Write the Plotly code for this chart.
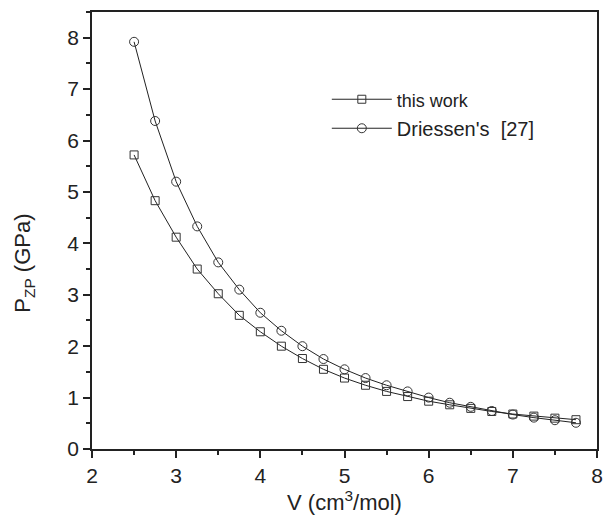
import plotly.graph_objects as go

volume = [2.5, 2.75, 3.0, 3.25, 3.5, 3.75, 4.0, 4.25, 4.5, 4.75, 5.0, 5.25,
          5.5, 5.75, 6.0, 6.25, 6.5, 6.75, 7.0, 7.25, 7.5, 7.75]
this_work = [5.72, 4.83, 4.12, 3.50, 3.02, 2.60, 2.28, 2.00, 1.76, 1.55, 1.38, 1.24,
             1.12, 1.02, 0.93, 0.86, 0.79, 0.73, 0.68, 0.64, 0.60, 0.57]
driessen = [7.92, 6.38, 5.20, 4.33, 3.63, 3.10, 2.65, 2.30, 2.00, 1.75, 1.55, 1.38,
            1.24, 1.12, 1.00, 0.90, 0.82, 0.74, 0.67, 0.61, 0.56, 0.51]

fig = go.Figure()
fig.add_trace(go.Scatter(
    x=volume, y=this_work, name="<span style='font-size:18px'>this work</span>",
    mode="lines+markers",
    line=dict(color="#222222", width=1),
    marker=dict(symbol="square-open", size=8, color="#333333", line=dict(width=1))))
fig.add_trace(go.Scatter(
    x=volume, y=driessen, name="Driessen's  [27]", mode="lines+markers",
    line=dict(color="#222222", width=1),
    marker=dict(symbol="circle-open", size=9, color="#333333", line=dict(width=1))))

axis_common = dict(showline=True, linecolor="#222222", linewidth=1.5, mirror=True,
                   ticks="outside", ticklen=7, tickwidth=1.5, tickcolor="#222222",
                   showgrid=False, zeroline=False,
                   tickfont=dict(family="Liberation Sans, Arial", size=21, color="#222222"))

fig.update_layout(
    width=606, height=512,
    margin=dict(l=84, r=17, t=2, b=71),
    paper_bgcolor="white", plot_bgcolor="white",
    font=dict(family="Liberation Sans, Arial", color="#222222"),
    xaxis=dict(range=[2, 8], dtick=1,
               minor=dict(dtick=0.5, ticks="outside", ticklen=4, tickcolor="#222222"),
               title=dict(text="V (cm<sup>3</sup>/mol)", font=dict(size=22), standoff=7),
               **axis_common),
    yaxis=dict(range=[0, 8.5], dtick=1,
               minor=dict(dtick=0.5, ticks="outside", ticklen=4, tickcolor="#222222"),
               **axis_common),
    legend=dict(x=0.465, y=0.845, xanchor="left", yanchor="top",
                bgcolor="rgba(0,0,0,0)", font=dict(size=20), itemwidth=60,
                tracegroupgap=2),
    showlegend=True,
    annotations=[dict(text="P<sub>ZP</sub> (GPa)", textangle=-90, showarrow=False,
                      xref="paper", yref="paper", x=-0.135, y=0.426,
                      xanchor="center", yanchor="middle",
                      font=dict(size=22, family="Liberation Sans, Arial", color="#222222"))],
)

fig.write_html("out.html")
